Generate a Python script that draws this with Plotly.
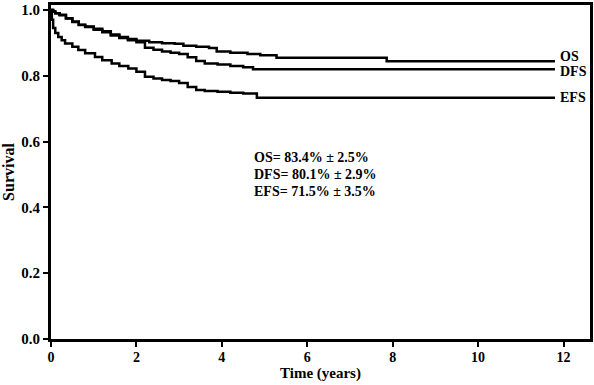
import plotly.graph_objects as go

# ---- data ----
os_t = [0, 0.05, 0.1, 0.2, 0.35, 0.5, 0.65, 0.8, 1.0, 1.2, 1.4, 1.6, 1.8, 2.0, 2.3, 2.6, 2.9,
        3.1, 3.4, 3.7, 3.88, 4.2, 4.6, 4.9, 5.28, 7.86, 11.8]
os_s = [1.0, 0.995, 0.99, 0.985, 0.975, 0.965, 0.955, 0.95, 0.943, 0.935, 0.925, 0.918, 0.912,
        0.906, 0.902, 0.899, 0.897, 0.891, 0.888, 0.884, 0.874, 0.870, 0.866, 0.862, 0.855,
        0.844, 0.844]

dfs_t = [0, 0.05, 0.1, 0.2, 0.35, 0.5, 0.65, 0.8, 1.0, 1.2, 1.4, 1.6, 1.8, 2.0, 2.2, 2.4, 2.6,
         2.8, 3.0, 3.2, 3.4, 3.6, 3.9, 4.2, 4.5, 4.73, 11.8]
dfs_s = [1.0, 0.995, 0.99, 0.984, 0.974, 0.963, 0.954, 0.948, 0.94, 0.932, 0.922, 0.915, 0.908,
         0.902, 0.885, 0.879, 0.874, 0.870, 0.866, 0.856, 0.845, 0.837, 0.834, 0.830, 0.826,
         0.820, 0.820]

efs_t = [0, 0.02, 0.05, 0.1, 0.17, 0.25, 0.33, 0.5, 0.64, 0.8, 1.03, 1.2, 1.42, 1.6, 1.81, 2.0,
         2.2, 2.4, 2.6, 2.8, 3.0, 3.2, 3.4, 3.6, 3.9, 4.2, 4.5, 4.82, 11.8]
efs_s = [1.0, 0.97, 0.945, 0.93, 0.918, 0.908, 0.898, 0.888, 0.878, 0.868, 0.857, 0.847, 0.837,
         0.830, 0.822, 0.812, 0.797, 0.792, 0.787, 0.784, 0.778, 0.766, 0.757, 0.754, 0.751,
         0.748, 0.746, 0.733, 0.733]

series_names = ["OS", "DFS", "EFS"]
stat_est = [83.4, 80.1, 71.5]
stat_se = [2.5, 2.9, 3.5]

x_ticks = [0, 2, 4, 6, 8, 10, 12]
y_ticks = [0.0, 0.2, 0.4, 0.6, 0.8, 1.0]

FONT = "Liberation Serif, Times New Roman, serif"

fig = go.Figure()
series = [(os_t, os_s), (dfs_t, dfs_s), (efs_t, efs_s)]
for name, (t, s) in zip(series_names, series):
    fig.add_trace(go.Scatter(x=t, y=s, mode="lines", name=name,
                             line=dict(color="black", width=2.5, shape="hv"),
                             showlegend=False))

# end labels
label_shift = {"OS": 5, "DFS": -2, "EFS": 0}
for name, (t, s) in zip(series_names, series):
    fig.add_annotation(x=t[-1], y=s[-1], text=name, showarrow=False,
                       xanchor="left", xshift=3, yshift=label_shift[name],
                       font=dict(family=FONT, size=14, color="black", weight="bold"))

# statistics block
for i, (name, est, se) in enumerate(zip(series_names, stat_est, stat_se)):
    fig.add_annotation(x=4.7, y=0.553, xref="x", yref="y", yshift=-17 * i,
                       text=f"{name}= {est}% ± {se}%", showarrow=False,
                       xanchor="left", yanchor="middle",
                       font=dict(family=FONT, size=14, color="black", weight="bold"))

# x-axis title (placed as annotation to control spacing)
fig.add_annotation(x=0.5, y=-0.103, xref="paper", yref="paper", text="Time (years)",
                   showarrow=False, xanchor="center", yanchor="middle",
                   font=dict(family=FONT, size=15, color="black", weight="bold"))

axis_common = dict(showline=True, linecolor="black", linewidth=3, mirror=True,
                   ticks="outside", ticklen=5, tickwidth=2, tickcolor="black",
                   showgrid=False, zeroline=False)

fig.update_xaxes(range=[0, 12.62], tickvals=x_ticks, ticklabelstandoff=-2,
                 tickfont=dict(family=FONT, size=14, color="black", weight="bold"),
                 **axis_common)
fig.update_yaxes(range=[0, 1.015], tickvals=y_ticks, tickformat=".1f",
                 tickfont=dict(family=FONT, size=15, color="black", weight="bold"),
                 title=dict(text="Survival", standoff=6,
                            font=dict(family=FONT, size=16, color="black", weight="bold")),
                 **axis_common)

fig.update_layout(width=594, height=385,
                  margin=dict(l=51, r=4, t=5, b=46, autoexpand=False),
                  paper_bgcolor="white", plot_bgcolor="white")

fig.write_html("out.html", config={"displayModeBar": False},
               post_script="document.body.style.margin='0';")
